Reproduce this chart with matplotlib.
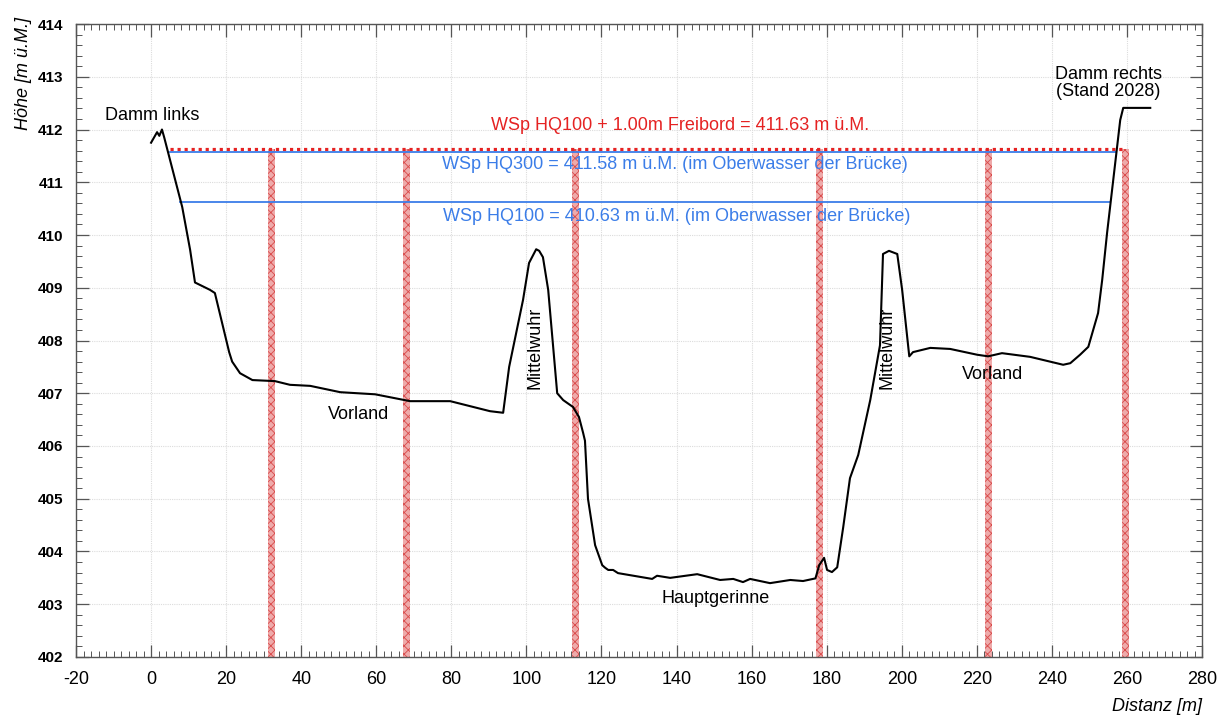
import matplotlib
matplotlib.use("Agg")
import matplotlib.pyplot as plt
from matplotlib.ticker import MultipleLocator

plt.rcParams['font.family'] = ['Liberation Sans', 'DejaVu Sans']
plt.rcParams['hatch.linewidth'] = 0.6
plt.rcParams['axes.unicode_minus'] = False

# Cross-section profile: distance [m] and ground elevation [m ü.M.]
dist = [0.0, 1.6, 2.2, 2.9, 3.5, 5.5, 8.3, 10.4, 11.7, 15.7, 17.0, 20.8, 21.6, 23.7,
        27.0, 33.0, 37.0, 42.4, 50.4, 59.7, 69.0, 79.7, 90.3, 93.8, 95.4, 99.1,
        100.7, 102.6, 103.4, 104.4, 105.8, 108.2, 109.8, 112.4, 114.0, 115.1,
        115.6, 116.4, 118.3, 120.2, 121.0, 121.8, 123.1, 124.4, 133.5, 134.8,
        138.3, 145.5, 151.6, 155.1, 157.7, 159.6, 164.9, 170.3, 173.7, 177.0,
        178.0, 179.3, 180.1, 181.4, 182.8, 184.4, 186.2, 188.4, 191.6, 194.2,
        195.0, 196.6, 198.8, 200.1, 202.0, 203.0, 207.6, 212.9, 220.1, 223.0,
        226.7, 234.2, 243.0, 244.9, 247.5, 249.7, 252.3, 253.4, 254.7, 258.2,
        259.0, 266.2]
elev = [411.75, 411.95, 411.88, 412.0, 411.85, 411.3, 410.53, 409.72, 409.1, 408.96,
        408.9, 407.78, 407.6, 407.38, 407.25, 407.23, 407.16, 407.14, 407.02,
        406.98, 406.85, 406.85, 406.66, 406.63, 407.5, 408.77, 409.47, 409.73,
        409.7, 409.58, 408.96, 407.0, 406.87, 406.74, 406.55, 406.25, 406.1,
        405.0, 404.12, 403.74, 403.69, 403.65, 403.65, 403.59, 403.48, 403.54,
        403.5, 403.57, 403.46, 403.48, 403.42, 403.48, 403.4, 403.46, 403.44,
        403.49, 403.74, 403.88, 403.65, 403.61, 403.7, 404.46, 405.39, 405.83,
        406.87, 407.91, 409.64, 409.7, 409.64, 408.96, 407.7, 407.78, 407.86,
        407.84, 407.73, 407.7, 407.76, 407.69, 407.54, 407.57, 407.73, 407.88,
        408.52, 409.15, 410.04, 412.18, 412.41, 412.41]

# Bridge piers
pier_x = [32.0, 68.0, 113.0, 178.0, 223.0, 259.5]
pier_width = 1.9

# Water levels
freeboard_level = 411.63
freeboard_span = [5.0, 259.0]
hq300_level = 411.58
hq300_span = [5.0, 257.0]
hq100_level = 410.63
hq100_span = [7.7, 255.5]

fig = plt.figure(figsize=(12.18, 7.17), dpi=100)
ax = fig.add_axes([0.0624, 0.0837, 0.9245, 0.8828])

ax.set_xlim(-20, 280)
ax.set_ylim(402, 414)

ax.grid(True, which='major', color='#dcdcdc', linestyle=(0, (1, 1)), linewidth=0.8)
ax.set_axisbelow(True)

# piers
for px in pier_x:
    ax.bar(px, freeboard_level - 402, bottom=402, width=pier_width,
           facecolor='#eeaaaa', edgecolor='#d94a4a', hatch='xxxx', linewidth=0,
           zorder=2)

ax.plot(freeboard_span, [freeboard_level] * 2, color='#e52222',
        linestyle=(0, (1, 1.2)), linewidth=2.3, zorder=3)
ax.plot(hq300_span, [hq300_level] * 2, color='#3b7de8', linewidth=1.3, zorder=3)
ax.plot(hq100_span, [hq100_level] * 2, color='#3b7de8', linewidth=1.3, zorder=3)

ax.plot(dist, elev, color='black', linewidth=1.5, zorder=4)

fs = 13
ax.text(0.3, 412.27, 'Damm links', fontsize=fs, ha='center', va='center')
ax.text(255, 412.88, 'Damm rechts\n(Stand 2028)', fontsize=fs, ha='center',
        va='center', linespacing=1.05)
ax.text(141, 412.08, 'WSp HQ100 + 1.00m Freibord = 411.63 m ü.M.', fontsize=fs,
        color='#e52222', ha='center', va='center')
ax.text(139.5, 411.33, 'WSp HQ300 = 411.58 m ü.M. (im Oberwasser der Brücke)',
        fontsize=fs, color='#3b7de8', ha='center', va='center')
ax.text(140, 410.36, 'WSp HQ100 = 410.63 m ü.M. (im Oberwasser der Brücke)',
        fontsize=fs, color='#3b7de8', ha='center', va='center')
ax.text(55.2, 406.6, 'Vorland', fontsize=fs, ha='center', va='center')
ax.text(224.1, 407.36, 'Vorland', fontsize=fs, ha='center', va='center')
ax.text(102.3, 407.86, 'Mittelwuhr', fontsize=fs, rotation=90, ha='center', va='center')
ax.text(196.1, 407.86, 'Mittelwuhr', fontsize=fs, rotation=90, ha='center', va='center')
ax.text(150.5, 403.1, 'Hauptgerinne', fontsize=fs, ha='center', va='center')

ax.xaxis.set_major_locator(MultipleLocator(20))
ax.xaxis.set_minor_locator(MultipleLocator(2))
ax.yaxis.set_major_locator(MultipleLocator(1))
ax.yaxis.set_minor_locator(MultipleLocator(0.2))
ax.tick_params(which='both', direction='in', top=True, right=True, color='#555555')
ax.tick_params(which='major', length=9, width=0.9)
ax.tick_params(which='minor', length=4.5, width=0.7)
ax.tick_params(axis='x', labelsize=13, pad=10)
ax.tick_params(axis='y', labelsize=11, pad=9)
for lab in ax.get_yticklabels():
    lab.set_fontweight('bold')
for sp in ax.spines.values():
    sp.set_color('#555555')
    sp.set_linewidth(1.0)

fig.text(0.019, 0.897, 'Höhe [m ü.M.]', rotation=90, fontsize=13, style='italic',
         ha='center', va='center')
fig.text(0.987, 0.015, 'Distanz [m]', fontsize=13, style='italic', ha='right',
         va='center')

fig.savefig('out.png', dpi=100)
